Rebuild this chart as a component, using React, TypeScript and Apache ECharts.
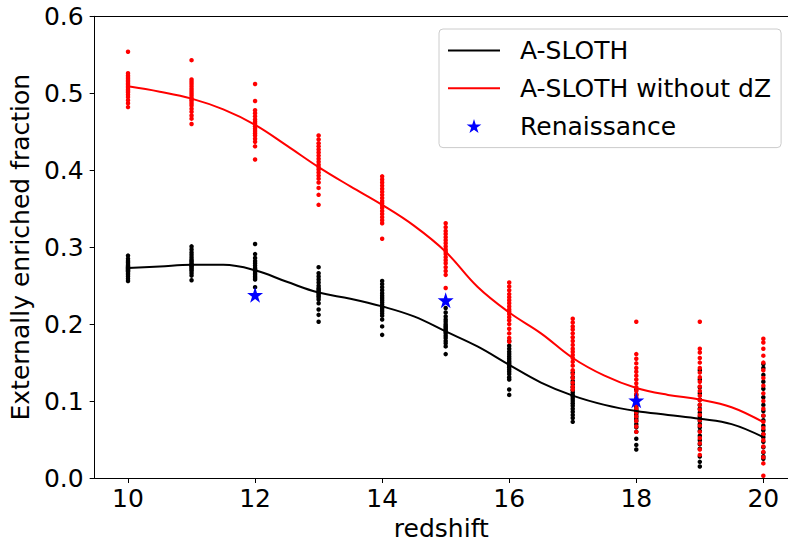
import React, { useEffect, useRef } from "react";
import * as echarts from "echarts";

const FONT = "DejaVu Sans";

// redshift bins
const redshifts = [10, 11, 12, 13, 14, 15, 16, 17, 18, 19, 20];

// A-SLOTH individual realisations (black dots), one list per redshift
const aslothSamples: number[][] = [
  [0.289, 0.285, 0.282, 0.28, 0.278, 0.276, 0.275, 0.274, 0.273, 0.272, 0.271, 0.27, 0.269, 0.268, 0.266, 0.264, 0.262, 0.259, 0.256],
  [0.301, 0.297, 0.293, 0.29, 0.287, 0.284, 0.282, 0.28, 0.278, 0.277, 0.276, 0.275, 0.273, 0.271, 0.269, 0.266, 0.263, 0.257],
  [0.304, 0.291, 0.286, 0.282, 0.279, 0.276, 0.273, 0.271, 0.27, 0.268, 0.266, 0.264, 0.262, 0.26, 0.258, 0.248],
  [0.274, 0.266, 0.262, 0.258, 0.254, 0.25, 0.247, 0.245, 0.243, 0.241, 0.239, 0.237, 0.235, 0.232, 0.227, 0.219, 0.212, 0.203],
  [0.256, 0.252, 0.248, 0.244, 0.24, 0.237, 0.234, 0.231, 0.228, 0.225, 0.222, 0.22, 0.217, 0.214, 0.211, 0.206, 0.197, 0.186],
  [0.221, 0.215, 0.21, 0.206, 0.203, 0.2, 0.198, 0.196, 0.194, 0.192, 0.19, 0.188, 0.185, 0.182, 0.178, 0.175, 0.171, 0.161],
  [0.178, 0.172, 0.168, 0.164, 0.161, 0.158, 0.155, 0.152, 0.15, 0.148, 0.146, 0.144, 0.141, 0.138, 0.135, 0.131, 0.128, 0.115, 0.108],
  [0.137, 0.131, 0.126, 0.122, 0.118, 0.114, 0.111, 0.108, 0.106, 0.103, 0.1, 0.097, 0.094, 0.09, 0.086, 0.082, 0.078, 0.073],
  [0.115, 0.108, 0.103, 0.099, 0.095, 0.092, 0.089, 0.087, 0.085, 0.083, 0.08, 0.077, 0.074, 0.07, 0.066, 0.06, 0.051, 0.043, 0.037],
  [0.14, 0.128, 0.118, 0.11, 0.102, 0.095, 0.09, 0.085, 0.08, 0.077, 0.074, 0.07, 0.066, 0.061, 0.055, 0.049, 0.044, 0.038, 0.028, 0.021, 0.015],
  [0.148, 0.143, 0.134, 0.125, 0.116, 0.105, 0.095, 0.087, 0.081, 0.075, 0.068, 0.062, 0.057, 0.053, 0.047, 0.04, 0.033, 0.028, 0.025],
];

// A-SLOTH without dZ individual realisations (red dots)
const noDzSamples: number[][] = [
  [0.554, 0.526, 0.523, 0.521, 0.519, 0.517, 0.515, 0.513, 0.511, 0.509, 0.507, 0.505, 0.503, 0.501, 0.498, 0.495, 0.491, 0.487, 0.482],
  [0.543, 0.518, 0.515, 0.512, 0.509, 0.506, 0.503, 0.5, 0.497, 0.494, 0.492, 0.49, 0.487, 0.484, 0.48, 0.476, 0.471, 0.467, 0.46],
  [0.512, 0.49, 0.478, 0.474, 0.47, 0.466, 0.463, 0.46, 0.457, 0.454, 0.451, 0.448, 0.445, 0.441, 0.437, 0.431, 0.414],
  [0.445, 0.44, 0.435, 0.431, 0.427, 0.423, 0.419, 0.415, 0.411, 0.407, 0.404, 0.401, 0.397, 0.393, 0.389, 0.384, 0.377, 0.368, 0.355],
  [0.392, 0.388, 0.384, 0.38, 0.376, 0.372, 0.368, 0.364, 0.36, 0.357, 0.354, 0.351, 0.347, 0.343, 0.339, 0.335, 0.331, 0.311],
  [0.331, 0.326, 0.321, 0.317, 0.313, 0.309, 0.305, 0.301, 0.297, 0.294, 0.291, 0.287, 0.283, 0.279, 0.274, 0.269, 0.264, 0.247],
  [0.254, 0.249, 0.244, 0.239, 0.235, 0.231, 0.227, 0.223, 0.219, 0.216, 0.213, 0.209, 0.205, 0.2, 0.194, 0.188, 0.182, 0.177],
  [0.207, 0.202, 0.197, 0.193, 0.188, 0.183, 0.178, 0.173, 0.168, 0.164, 0.16, 0.156, 0.151, 0.146, 0.14, 0.135, 0.13, 0.124, 0.119, 0.115],
  [0.203, 0.161, 0.155, 0.149, 0.143, 0.138, 0.133, 0.128, 0.123, 0.118, 0.113, 0.109, 0.105, 0.1, 0.095, 0.09, 0.085, 0.08, 0.074, 0.067, 0.06],
  [0.203, 0.168, 0.163, 0.156, 0.15, 0.143, 0.137, 0.131, 0.125, 0.119, 0.113, 0.107, 0.101, 0.095, 0.089, 0.082, 0.075, 0.068, 0.06, 0.052, 0.045, 0.037, 0.03],
  [0.181, 0.176, 0.168, 0.159, 0.15, 0.14, 0.13, 0.12, 0.11, 0.1, 0.09, 0.081, 0.073, 0.065, 0.057, 0.049, 0.041, 0.034, 0.027, 0.019, 0.003],
];

// smoothed mean curves
const curveZ = [10, 10.5, 11, 11.5, 12, 12.5, 13, 13.5, 14, 14.5, 15, 15.5, 16, 16.5, 17, 17.5, 18, 18.5, 19, 19.5, 20];
const aslothCurve = [0.273, 0.275, 0.277, 0.277, 0.27, 0.255, 0.241, 0.233, 0.223, 0.21, 0.1905, 0.171, 0.147, 0.124, 0.107, 0.095, 0.087, 0.082, 0.077, 0.07, 0.053];
const noDzCurve = [0.509, 0.502, 0.493, 0.479, 0.459, 0.432, 0.404, 0.379, 0.355, 0.328, 0.294, 0.2485, 0.215, 0.188, 0.156, 0.133, 0.117, 0.108, 0.102, 0.092, 0.0725];

// Renaissance simulation points
const renZ = [12, 15, 18];
const renFrac = [0.238, 0.231, 0.101];

// axis ticks
const xTicks = [10, 12, 14, 16, 18, 20];

const STAR =
  "path://M0,-1L0.2245,-0.309L0.951,-0.309L0.363,0.118L0.588,0.809L0,0.382L-0.588,0.809L-0.363,0.118L-0.951,-0.309L-0.2245,-0.309Z";
const LINE_ICON = "path://M0,0L52,0L52,2L0,2Z";

function samplesToPoints(samples: number[][]) {
  const pts: number[][] = [];
  samples.forEach((vals, i) => vals.forEach((v) => pts.push([redshifts[i], v])));
  return pts;
}

export default function App() {
  const ref = useRef<HTMLDivElement>(null);
  useEffect(() => {
    if (!ref.current) return;
    document.body.style.margin = "0";
    const chart = echarts.init(ref.current, undefined, { renderer: "svg" });
    const xMin = 9.475;
    const xMax = 20.388;
    chart.setOption({
      animation: false,
      backgroundColor: "#ffffff",
      textStyle: { fontFamily: FONT },
      grid: {
        left: 93.3,
        top: 16.3,
        width: 694.7,
        height: 466,
        show: false,
      },
      xAxis: [
        {
          type: "value",
          min: xMin,
          max: xMax,
          name: "redshift",
          nameLocation: "middle",
          nameGap: 38,
          nameTextStyle: { fontSize: 25, color: "#000", fontFamily: FONT },
          axisLine: { show: true, lineStyle: { color: "#000", width: 1 } },
          axisTick: { show: true, inside: false, length: 5, lineStyle: { color: "#000" }, customValues: xTicks },
          axisLabel: { fontSize: 25, color: "#000", fontFamily: FONT, margin: 8, customValues: xTicks },
          splitLine: { show: false },
        },
        {
          type: "value",
          position: "top",
          min: xMin,
          max: xMax,
          axisLine: { show: true, onZero: false, lineStyle: { color: "#000", width: 1 } },
          axisTick: { show: false },
          axisLabel: { show: false },
          splitLine: { show: false },
        },
      ],
      yAxis: {
        type: "value",
        min: 0,
        max: 0.6,
        interval: 0.1,
        name: "Externally enriched fraction",
        nameLocation: "middle",
        nameGap: 57,
        nameRotate: 90,
        nameTextStyle: { fontSize: 25, color: "#000", fontFamily: FONT },
        axisLine: { show: true, lineStyle: { color: "#000", width: 1 } },
        axisTick: { show: true, inside: false, length: 5, lineStyle: { color: "#000" } },
        axisLabel: {
          fontSize: 25,
          color: "#000",
          fontFamily: FONT,
          margin: 11,
          formatter: (v: number) => v.toFixed(1),
        },
        splitLine: { show: false },
      },
      legend: {
        data: [
          { name: "A-SLOTH", icon: LINE_ICON },
          { name: "A-SLOTH without dZ", icon: LINE_ICON },
          { name: "Renaissance", icon: STAR },
        ],
        orient: "vertical",
        left: 439,
        top: 29,
        itemWidth: 52,
        itemHeight: 14,
        itemGap: 12.8,
        padding: [9, 10, 9, 9],
        backgroundColor: "rgba(255,255,255,0.8)",
        borderColor: "#cccccc",
        borderWidth: 1,
        borderRadius: 4,
        textStyle: { fontSize: 25, lineHeight: 25, color: "#000", fontFamily: FONT, padding: [0, 0, 0, 15] },
      },
      series: [
        {
          name: "A-SLOTH samples",
          type: "scatter",
          data: samplesToPoints(aslothSamples),
          symbol: "circle",
          symbolSize: 4.5,
          itemStyle: { color: "#000000", opacity: 1 },
          z: 2,
        },
        {
          name: "A-SLOTH without dZ samples",
          type: "scatter",
          data: samplesToPoints(noDzSamples),
          symbol: "circle",
          symbolSize: 4.5,
          itemStyle: { color: "#ff0000", opacity: 1 },
          z: 3,
        },
        {
          name: "A-SLOTH",
          type: "line",
          data: curveZ.map((z, i) => [z, aslothCurve[i]]),
          smooth: 0.4,
          symbol: "none",
          lineStyle: { color: "#000000", width: 2 },
          itemStyle: { color: "#000000" },
          z: 4,
        },
        {
          name: "A-SLOTH without dZ",
          type: "line",
          data: curveZ.map((z, i) => [z, noDzCurve[i]]),
          smooth: 0.4,
          symbol: "none",
          lineStyle: { color: "#ff0000", width: 2 },
          itemStyle: { color: "#ff0000" },
          z: 5,
        },
        {
          name: "Renaissance",
          type: "scatter",
          data: renZ.map((z, i) => [z, renFrac[i]]),
          symbol: STAR,
          symbolSize: 16,
          itemStyle: { color: "#0000ff", opacity: 1 },
          z: 6,
        },
      ],
    });
    return () => chart.dispose();
  }, []);
  return (
    <div
      ref={ref}
      style={{ position: "fixed", left: 0, top: 0, width: 788, height: 546, background: "#fff" }}
    />
  );
}
